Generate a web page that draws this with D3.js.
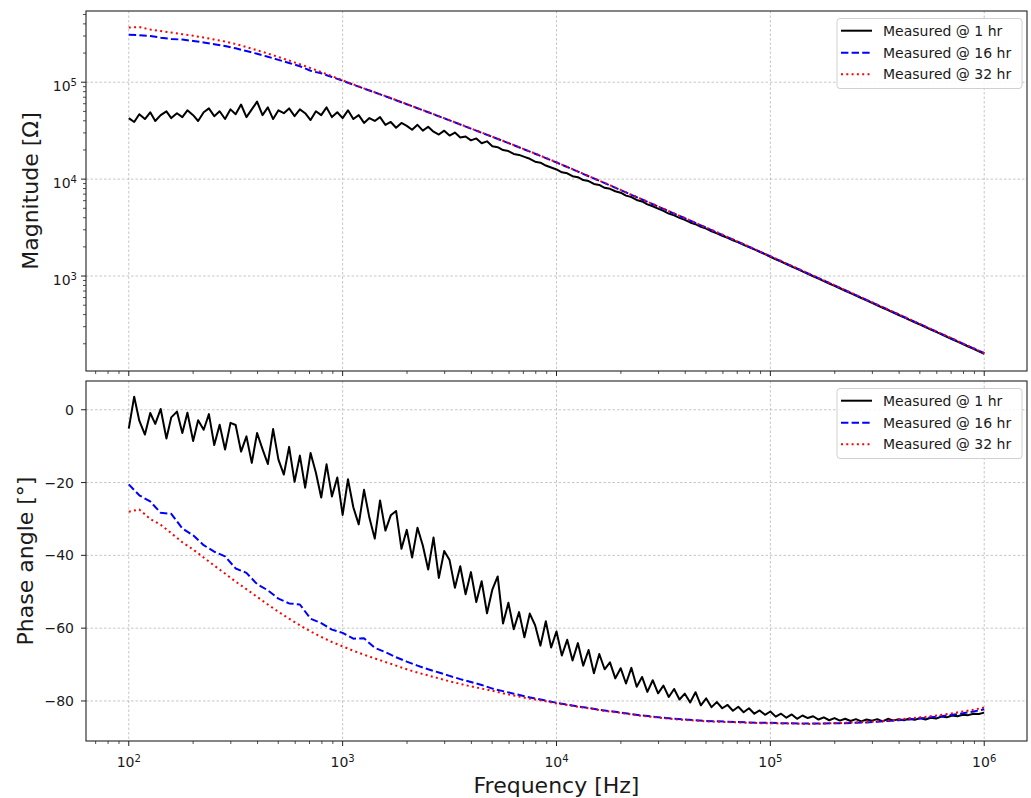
<!DOCTYPE html>
<html>
<head>
<meta charset="utf-8">
<script src="https://cdn.jsdelivr.net/npm/d3@7"></script>
<style>
  body { margin: 0; background: #fff; }
  text { font-family: "DejaVu Sans", sans-serif; fill: #1a1a1a; }
</style>
</head>
<body>
<svg width="1031" height="798"></svg>
<script>
// sweep frequencies [Hz], 40 points per decade
const freqHz = [
  100,106,112,119,126,133,141,150,158,168,178,188,200,211,224,237,251,266,282,299,
  316,335,355,376,398,422,447,473,501,531,562,596,631,668,708,750,794,841,891,944,
  1000,1059,1122,1189,1259,1334,1413,1496,1585,1679,1778,1884,1995,2113,2239,2371,2512,2661,2818,2985,
  3162,3350,3548,3758,3981,4217,4467,4732,5012,5309,5623,5957,6310,6683,7079,7499,7943,8414,8913,9441,
  10000,10593,11220,11885,12589,13335,14125,14962,15849,16788,17783,18836,19953,21135,22387,23714,25119,26607,28184,29854,
  31623,33497,35481,37584,39811,42170,44668,47315,50119,53088,56234,59566,63096,66834,70795,74989,79433,84140,89125,94406,
  100000,105925,112202,118850,125893,133352,141254,149624,158489,167880,177828,188365,199526,211349,223872,237137,251189,266073,281838,298538,
  316228,334965,354813,375837,398107,421697,446684,473151,501187,530884,562341,595662,630957,668344,707946,749894,794328,841395,891251,944061,
  1000000
]
// 16 hr / 32 hr traces were read every other point (20 per decade)
const freqHzCoarse = freqHz.filter((f, i) => i % 2 === 0)

// log10 |Z| [Ohm]
const magLog1hr = [
  4.63,4.59,4.67,4.62,4.69,4.60,4.66,4.70,4.63,4.68,
  4.64,4.71,4.66,4.60,4.69,4.73,4.65,4.70,4.62,4.72,
  4.67,4.77,4.64,4.72,4.80,4.66,4.74,4.62,4.71,4.68,
  4.73,4.65,4.72,4.68,4.61,4.70,4.66,4.74,4.64,4.69,
  4.63,4.71,4.62,4.66,4.58,4.63,4.60,4.64,4.56,4.59,
  4.53,4.58,4.55,4.51,4.56,4.50,4.54,4.49,4.46,4.50,
  4.45,4.48,4.43,4.44,4.40,4.42,4.37,4.39,4.34,4.33,
  4.30,4.29,4.26,4.25,4.23,4.21,4.18,4.17,4.14,4.12,
  4.10,4.07,4.06,4.03,4.02,3.99,3.98,3.95,3.94,3.91,
  3.90,3.875,3.86,3.83,3.815,3.785,3.77,3.74,3.72,3.695,
  3.672,3.645,3.626,3.600,3.579,3.553,3.535,3.507,3.489,3.462,
  3.440,3.415,3.394,3.368,3.347,3.322,3.298,3.275,3.249,3.226,
  3.198,3.173,3.148,3.123,3.098,3.073,3.048,3.023,2.998,2.973,
  2.948,2.923,2.898,2.873,2.848,2.823,2.798,2.773,2.748,2.723,
  2.698,2.673,2.648,2.623,2.598,2.573,2.548,2.523,2.498,2.473,
  2.448,2.423,2.398,2.373,2.348,2.323,2.298,2.273,2.248,2.223,
  2.198
]
const magLog16hr = [
  5.490,5.485,5.477,5.460,5.446,5.440,5.426,5.410,5.392,5.373,
  5.350,5.322,5.293,5.263,5.231,5.199,5.165,5.118,5.092,5.054,
  5.015,4.975,4.935,4.895,4.855,4.814,4.773,4.731,4.690,4.648,
  4.606,4.564,4.521,4.479,4.436,4.394,4.350,4.306,4.262,4.217,
  4.172,4.125,4.078,4.030,3.983,3.935,3.887,3.838,3.790,3.741,
  3.693,3.644,3.596,3.547,3.499,3.450,3.401,3.351,3.302,3.252,
  3.203,3.153,3.103,3.053,3.003,2.953,2.903,2.853,2.803,2.753,
  2.703,2.653,2.603,2.553,2.503,2.453,2.403,2.353,2.303,2.253,
  2.203
]
const magLog32hr = [
  5.565,5.570,5.544,5.529,5.513,5.495,5.479,5.461,5.441,5.420,
  5.395,5.363,5.330,5.296,5.260,5.224,5.186,5.146,5.105,5.063,
  5.020,4.978,4.936,4.897,4.857,4.816,4.775,4.733,4.692,4.650,
  4.608,4.566,4.523,4.481,4.438,4.396,4.352,4.308,4.264,4.219,
  4.174,4.127,4.080,4.032,3.985,3.937,3.889,3.840,3.792,3.743,
  3.695,3.646,3.598,3.549,3.501,3.452,3.403,3.353,3.304,3.254,
  3.205,3.155,3.105,3.055,3.005,2.955,2.905,2.855,2.805,2.755,
  2.705,2.655,2.605,2.555,2.505,2.455,2.405,2.355,2.305,2.255,
  2.205
]

// phase angle [deg]
const phase1hr = [
  -5.2,3.6,-3.0,-6.8,-0.9,-3.9,0.2,-7.9,-2.1,-0.5,
  -6.4,-0.8,-8.6,-2.9,-5.5,-1.2,-9.7,-4.1,-10.9,-3.6,
  -4.2,-11.5,-7.3,-14.6,-6.4,-10.8,-14.9,-5.3,-13.7,-17.8,
  -10.2,-19.8,-12.6,-21.4,-11.9,-17.3,-24.1,-15.0,-23.8,-18.6,
  -28.9,-19.1,-26.8,-31.5,-22.0,-29.7,-35.4,-24.9,-33.2,-29.0,
  -27.8,-38.2,-33.0,-40.6,-32.4,-37.3,-43.9,-35.1,-46.2,-38.8,
  -41.3,-48.9,-43.0,-50.7,-44.6,-52.8,-47.1,-55.9,-49.4,-45.8,
  -58.7,-53.0,-60.3,-55.6,-62.5,-56.0,-59.2,-64.8,-58.1,-65.3,
  -60.9,-67.5,-63.2,-68.9,-64.1,-70.3,-66.0,-72.4,-67.1,-71.3,
  -69.4,-73.8,-71.0,-75.2,-70.9,-76.1,-73.4,-77.5,-74.3,-77.9,
  -75.8,-78.9,-76.7,-79.6,-78.0,-80.4,-77.6,-81.2,-79.3,-81.7,
  -80.3,-82.0,-81.1,-82.7,-81.6,-83.1,-82.0,-83.5,-82.6,-83.8,
  -82.9,-84.3,-83.5,-84.6,-83.7,-84.9,-84.0,-84.7,-84.2,-85.1,
  -84.5,-85.3,-84.7,-85.4,-84.9,-85.5,-85.0,-85.6,-85.1,-85.4,
  -85.0,-85.6,-84.9,-85.4,-85.0,-85.3,-84.8,-85.2,-84.7,-85.1,
  -84.6,-84.8,-84.3,-84.5,-84.0,-84.2,-83.8,-83.9,-83.5,-83.6,
  -83.2
]
const phase16hr = [
  -20.5,-23.5,-25.2,-28.3,-28.6,-32.6,-34.5,-37.2,-39.0,-40.3,
  -43.6,-44.8,-47.9,-49.6,-51.9,-53.2,-53.5,-57.4,-58.6,-60.4,
  -61.3,-62.9,-62.8,-65.4,-66.6,-68.0,-69.2,-70.3,-71.3,-72.2,
  -73.1,-74.0,-74.8,-75.6,-76.6,-77.3,-78.0,-78.7,-79.3,-79.9,
  -80.5,-81.0,-81.5,-81.9,-82.4,-82.8,-83.2,-83.6,-84.0,-84.3,
  -84.6,-84.9,-85.1,-85.3,-85.5,-85.6,-85.7,-85.8,-85.9,-86.0,
  -86.0,-86.1,-86.1,-86.2,-86.2,-86.2,-86.1,-86.1,-86.0,-85.9,
  -85.7,-85.5,-85.3,-85.1,-84.8,-84.5,-84.2,-83.8,-83.4,-82.9,
  -82.3
]
const phase32hr = [
  -28.0,-27.4,-30.0,-31.6,-33.9,-36.4,-38.4,-40.6,-42.8,-45.0,
  -47.2,-49.3,-51.4,-53.5,-55.5,-57.4,-59.2,-60.9,-62.4,-63.8,
  -65.0,-66.2,-67.3,-68.3,-69.3,-70.3,-71.3,-72.2,-73.0,-73.8,
  -74.6,-75.3,-76.0,-76.6,-77.2,-77.9,-78.5,-79.1,-79.6,-80.1,
  -80.7,-81.1,-81.6,-82.0,-82.5,-82.9,-83.3,-83.7,-84.1,-84.4,
  -84.7,-85.0,-85.2,-85.4,-85.6,-85.7,-85.8,-85.9,-86.0,-86.1,
  -86.1,-86.2,-86.2,-86.3,-86.3,-86.2,-86.1,-86.0,-85.9,-85.8,
  -85.6,-85.4,-85.1,-84.8,-84.5,-84.2,-83.8,-83.4,-82.9,-82.4,
  -81.8
]

const seriesLabels = ['Measured @ 1 hr', 'Measured @ 16 hr', 'Measured @ 32 hr']
const xTickExps = [2, 3, 4, 5, 6]
const magTickExps = [3, 4, 5]
const phaseTicks = [0, -20, -40, -60, -80]

// axis limits as shown
const xLimits = [Math.pow(10, 1.8), Math.pow(10, 6.2)]
const magLimits = [Math.pow(10, 2.02), Math.pow(10, 5.735)]
const phaseLimits = [-91, 7.9]

const svg = d3.select('svg')
const left = 86, right = 1027
const top1 = 11, bot1 = 371, top2 = 381, bot2 = 741
const ink = '#222'

const styles = [
  { color: '#000000', dash: null },
  { color: '#0000ff', dash: '7.4,3.2' },
  { color: '#ff0000', dash: '2,3.3' }
]

const x = d3.scaleLog().domain(xLimits).range([left, right])
const yMag = d3.scaleLog().domain(magLimits).range([bot1, top1])
const yPh = d3.scaleLinear().domain(phaseLimits).range([bot2, top2])

function minorTicks(lo, hi) {
  const out = []
  for (let e = Math.floor(Math.log10(lo)); e <= Math.ceil(Math.log10(hi)); e++) {
    for (let m = 2; m <= 9; m++) {
      const v = m * Math.pow(10, e)
      if (v >= lo && v <= hi) out.push(v)
    }
  }
  return out
}

function powLabel(sel, exp) {
  sel.text(null)
  sel.append('tspan').text('10')
  sel.append('tspan').attr('dy', '-0.48em').attr('font-size', '0.72em').text(exp)
}

function grid(g, yScale, yVals, y0, y1) {
  const gg = g.append('g').attr('stroke', '#b8b8b8').attr('stroke-width', 0.8)
    .attr('stroke-dasharray', '2.5,2')
  gg.selectAll('.gx').data(xTickExps).enter().append('line')
    .attr('x1', d => x(Math.pow(10, d))).attr('x2', d => x(Math.pow(10, d)))
    .attr('y1', y0).attr('y2', y1)
  gg.selectAll('.gy').data(yVals).enter().append('line')
    .attr('x1', left).attr('x2', right)
    .attr('y1', d => yScale(d)).attr('y2', d => yScale(d))
}

function drawLines(g, series, yScale) {
  series.forEach((s, i) => {
    const line = d3.line().x(d => x(d[0])).y(d => yScale(d[1]))
    g.append('path')
      .datum(d3.zip(s.f, s.v))
      .attr('fill', 'none')
      .attr('stroke', styles[i].color)
      .attr('stroke-width', 2)
      .attr('stroke-linejoin', 'round')
      .attr('stroke-dasharray', styles[i].dash)
      .attr('d', line)
  })
}

function frameAndXTicks(g, y0, y1, withLabels) {
  g.append('rect').attr('x', left).attr('y', y0)
    .attr('width', right - left).attr('height', y1 - y0)
    .attr('fill', 'none').attr('stroke', ink).attr('stroke-width', 1.1)
  const majors = xTickExps.map(e => Math.pow(10, e))
  g.selectAll('.xmaj').data(majors).enter().append('line')
    .attr('x1', d => x(d)).attr('x2', d => x(d))
    .attr('y1', y1).attr('y2', y1 + 5).attr('stroke', ink)
  g.selectAll('.xmin').data(minorTicks(xLimits[0], xLimits[1])).enter().append('line')
    .attr('x1', d => x(d)).attr('x2', d => x(d))
    .attr('y1', y1).attr('y2', y1 + 3).attr('stroke', ink).attr('stroke-width', 0.8)
  if (withLabels) {
    g.selectAll('.xlab').data(xTickExps).enter().append('text')
      .attr('x', d => x(Math.pow(10, d)))
      .attr('y', y1 + 26)
      .attr('text-anchor', 'middle')
      .attr('font-size', 14)
      .each(function (d) { powLabel(d3.select(this), d) })
  }
}

function legend(g, y0) {
  const lg = g.append('g').attr('transform', `translate(0,${y0})`)
  lg.append('rect').attr('x', 837).attr('y', 18.5).attr('width', 185).attr('height', 70)
    .attr('rx', 3).attr('fill', '#fff').attr('fill-opacity', 0.85)
    .attr('stroke', '#d0d0d0').attr('stroke-width', 1)
  const rows = [30.7, 52.7, 74.3]
  seriesLabels.forEach((lab, i) => {
    lg.append('line').attr('x1', 841).attr('x2', 872)
      .attr('y1', rows[i]).attr('y2', rows[i])
      .attr('stroke', styles[i].color).attr('stroke-width', 2)
      .attr('stroke-dasharray', styles[i].dash)
    lg.append('text').attr('x', 883).attr('y', rows[i] + 5)
      .attr('font-size', 14).text(lab)
  })
}

// ---- top: magnitude ----
const gTop = svg.append('g')
grid(gTop, yMag, magTickExps.map(e => Math.pow(10, e)), top1, bot1)
drawLines(gTop, [
  { f: freqHz, v: magLog1hr.map(v => Math.pow(10, v)) },
  { f: freqHzCoarse, v: magLog16hr.map(v => Math.pow(10, v)) },
  { f: freqHzCoarse, v: magLog32hr.map(v => Math.pow(10, v)) }
], yMag)
frameAndXTicks(gTop, top1, bot1, false)
gTop.selectAll('.ymaj').data(magTickExps).enter().append('line')
  .attr('x1', left - 5).attr('x2', left)
  .attr('y1', d => yMag(Math.pow(10, d))).attr('y2', d => yMag(Math.pow(10, d)))
  .attr('stroke', ink)
gTop.selectAll('.ymin').data(minorTicks(magLimits[0], magLimits[1])).enter().append('line')
  .attr('x1', left - 3).attr('x2', left)
  .attr('y1', d => yMag(d)).attr('y2', d => yMag(d))
  .attr('stroke', ink).attr('stroke-width', 0.8)
gTop.selectAll('.ylab').data(magTickExps).enter().append('text')
  .attr('x', left - 9)
  .attr('y', d => yMag(Math.pow(10, d)) + 9)
  .attr('text-anchor', 'end')
  .attr('font-size', 14)
  .each(function (d) { powLabel(d3.select(this), d) })
gTop.append('text')
  .attr('transform', `translate(37.5,${(top1 + bot1) / 2}) rotate(-90)`)
  .attr('text-anchor', 'middle').attr('font-size', 22)
  .text('Magnitude [Ω]')
legend(gTop, 0)

// ---- bottom: phase ----
const gBot = svg.append('g')
grid(gBot, yPh, phaseTicks, top2, bot2)
drawLines(gBot, [
  { f: freqHz, v: phase1hr },
  { f: freqHzCoarse, v: phase16hr },
  { f: freqHzCoarse, v: phase32hr }
], yPh)
frameAndXTicks(gBot, top2, bot2, true)
gBot.selectAll('.ymaj').data(phaseTicks).enter().append('line')
  .attr('x1', left - 5).attr('x2', left)
  .attr('y1', d => yPh(d)).attr('y2', d => yPh(d))
  .attr('stroke', ink)
gBot.selectAll('.ylab').data(phaseTicks).enter().append('text')
  .attr('x', left - 12)
  .attr('y', d => yPh(d) + 5)
  .attr('text-anchor', 'end')
  .attr('font-size', 14)
  .text(d => d < 0 ? '\u2212' + Math.abs(d) : d)
gBot.append('text')
  .attr('transform', `translate(32.5,${(top2 + bot2) / 2}) rotate(-90)`)
  .attr('text-anchor', 'middle').attr('font-size', 22)
  .text('Phase angle [°]')
legend(gBot, 370)

svg.append('text')
  .attr('x', (left + right) / 2).attr('y', 793)
  .attr('text-anchor', 'middle').attr('font-size', 22)
  .text('Frequency [Hz]')
</script>
</body>
</html>
